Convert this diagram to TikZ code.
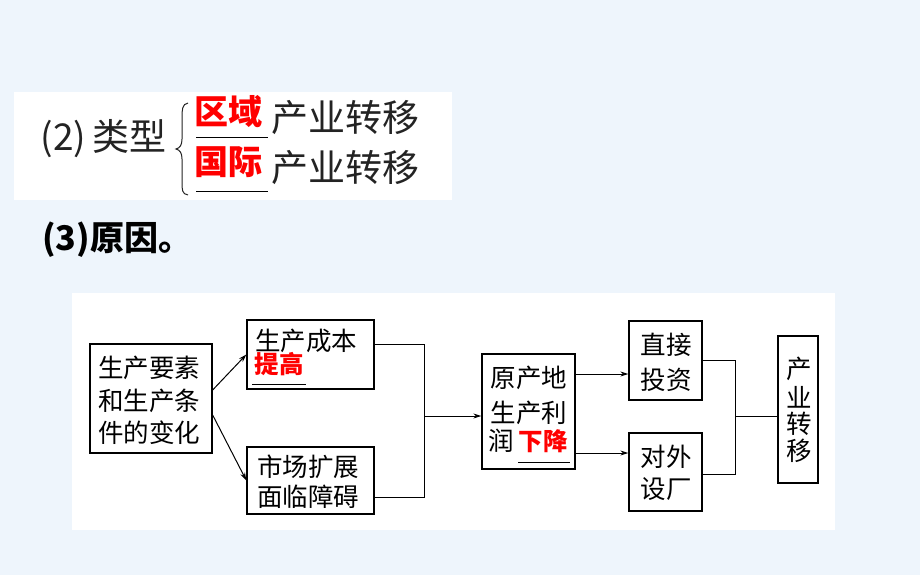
\documentclass[tikz,border=0pt]{standalone}
\usepackage{fontspec}
\newfontfamily\cjk{Noto Sans CJK SC}
\usetikzlibrary{arrows.meta,calc}
\definecolor{bgblue}{RGB}{238,245,252}
\definecolor{txtgray}{RGB}{35,35,35}
\tikzset{
  box/.style={draw=black,line width=1.3pt,inner sep=0pt},
  lbl/.style={inner sep=0pt,anchor=center,font=\cjk\fontsize{25.5}{25.5}\selectfont},
  redlbl/.style={inner sep=0pt,anchor=center,text=red,font=\cjk\bfseries\fontsize{24.5}{24.5}\selectfont},
  toptext/.style={inner sep=0pt,anchor=center,text=txtgray,font=\cjk\fontsize{37}{37}\selectfont},
  topred/.style={inner sep=0pt,anchor=center,text=red,font=\cjk\bfseries\fontsize{34}{34}\selectfont},
  uline/.style={line width=1pt},
  conn/.style={line width=1pt},
  arr/.style={line width=1pt,-{Stealth[length=8pt,width=5pt]}},
}
\begin{document}
\begin{tikzpicture}[x=1pt,y=-1pt]
\useasboundingbox (0,0) rectangle (920,575);
\fill[bgblue] (0,0) rectangle (920,575);
\fill[white] (14,92) rectangle (452,200);
\fill[white] (72,293) rectangle (835,530);

% top part
\node[toptext] (t2) at (103.5,139) {(2)\,类型};
\draw[line width=1pt,txtgray] (188,103) .. controls (182,104) and (182,110) .. (182,118) -- (182,139) .. controls (182,145) and (180,148) .. (176,149) .. controls (180,150) and (182,153) .. (182,159) -- (182,182) .. controls (182,190) and (182,194) .. (188,195);
\node[topred] (q1) at (228.5,112) {区域};
\node[toptext] (c1) at (345,118) {产业转移};
\node[topred] (q2) at (228.5,162) {国际};
\node[toptext] (c2) at (345,168) {产业转移};
\draw[uline] (196,137) -- (268,137);
\draw[uline] (196,191) -- (268,191);

\node[inner sep=0pt,anchor=west,font=\cjk\bfseries\fontsize{34}{34}\selectfont] (r3) at (42,240) {(3)原因。};

% boxes
\node[box,minimum width=122pt,minimum height=109pt] (A) at (151,398.5) {};
\node[box,minimum width=127pt,minimum height=69pt] (B) at (310.5,354.5) {};
\node[box,minimum width=127pt,minimum height=67pt] (C) at (310.5,480.5) {};
\node[box,minimum width=93pt,minimum height=115pt] (D) at (528.5,411.5) {};
\node[box,minimum width=73pt,minimum height=79pt] (E) at (665.5,360.5) {};
\node[box,minimum width=73pt,minimum height=78pt] (F) at (665.5,472) {};
\node[box,minimum width=40pt,minimum height=147pt] (G) at (798,409.5) {};

% texts
\node[lbl] (a1) at (149,368) {生产要素};
\node[lbl] (a2) at (149,400.5) {和生产条};
\node[lbl] (a3) at (149,433) {件的变化};
\node[lbl] (b1) at (306,341) {生产成本};
\node[redlbl] (b2) at (279,364) {提高};
\draw[uline] (252,384) -- (306,384);
\node[lbl] (c1b) at (308,467) {市场扩展};
\node[lbl] (c2b) at (308,497) {面临障碍};
\node[lbl] (d1) at (529,378) {原产地};
\node[lbl] (d2) at (529,413) {生产利};
\node[lbl,anchor=west] (d3) at (488,441) {润};
\node[redlbl] (d4) at (543,441) {下降};
\draw[uline] (518,462) -- (570,462);
\node[lbl] (e1) at (666,345) {直接};
\node[lbl] (e2) at (666,380) {投资};
\node[lbl] (f1) at (666,457) {对外};
\node[lbl] (f2) at (666,489) {设厂};
\node[lbl] (g1) at (799,369) {产};
\node[lbl] (g2) at (799,397) {业};
\node[lbl] (g3) at (799,424) {转};
\node[lbl] (g4) at (799,451) {移};

% connectors
\coordinate (m1) at (424,416);
\coordinate (m2) at (735,416);
\coordinate (dE) at ($(D.east)+(0,-37.5)$);
\coordinate (dF) at ($(D.east)+(0,41.5)$);
\coordinate (fo) at ($(F.east)+(0,2)$);
\draw[arr] ($(A.east)+(0,-8.5)$) -- (B.west);
\draw[arr] ($(A.east)+(0,16.5)$) -- (C.west);
\draw[conn] ($(B.east)+(0,-10)$) -| (m1);
\draw[conn] ($(C.east)+(0,17)$) -| (m1);
\draw[arr] (m1) -- (m1 -| D.west);
\draw[arr] (dE) -- (dE -| E.west);
\draw[arr] (dF) -- (dF -| F.west);
\draw[conn] (E.east) -| (m2);
\draw[conn] (fo) -| (m2);
\draw[conn] (m2) -- (m2 -| G.west);
\end{tikzpicture}
\end{document}
